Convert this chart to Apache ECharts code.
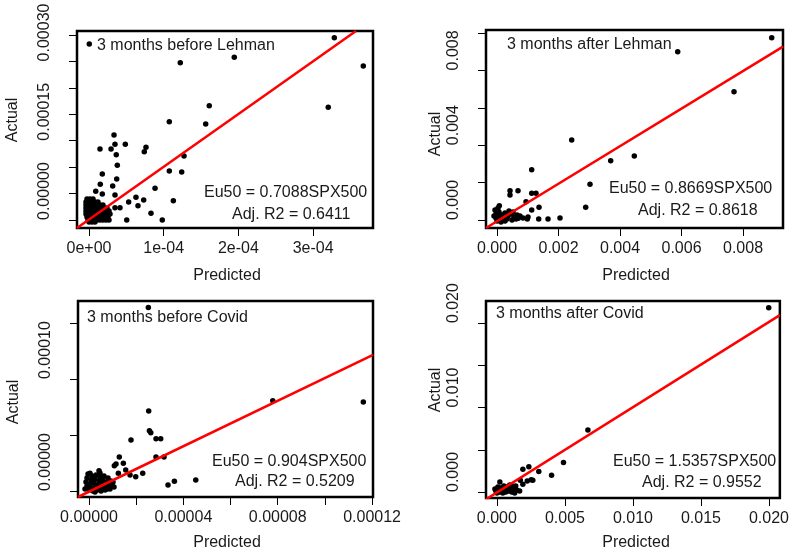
<!DOCTYPE html>
<html><head><meta charset="utf-8">
<script src="https://cdn.jsdelivr.net/npm/echarts@6/dist/echarts.min.js"></script>
<style>html,body{margin:0;padding:0;background:#fff}#c{width:792px;height:554px}</style>
</head><body><div id="c"></div>
<script>
// ---------- DATA ----------
// Panel 1: 3 months before Lehman
const lehmanBeforePoints = [
 [0.004e-4,33.30e-5],[3.284e-4,34.49e-5],[1.222e-4,29.76e-5],[1.945e-4,30.78e-5],[3.672e-4,29.13e-5],
 [1.610e-4,21.62e-5],[3.203e-4,21.32e-5],[1.075e-4,18.60e-5],[1.562e-4,18.16e-5],[0.335e-4,16.08e-5],
 [0.348e-4,14.32e-5],[0.486e-4,14.32e-5],[0.147e-4,13.43e-5],[0.295e-4,13.43e-5],[0.365e-4,12.35e-5],
 [0.763e-4,13.75e-5],[0.740e-4,12.92e-5],[0.379e-4,10.35e-5],[1.075e-4,9.27e-5],[1.241e-4,9.08e-5],
 [1.272e-4,12.11e-5],[0.178e-4,8.70e-5],[0.371e-4,7.76e-5],[0.151e-4,6.75e-5],[0.317e-4,6.43e-5],
 [0.884e-4,6.00e-5],[0.090e-4,5.43e-5],[0.178e-4,4.92e-5],[0.348e-4,4.73e-5],[0.531e-4,3.41e-5],
 [0.629e-4,4.29e-5],[0.732e-4,3.78e-5],[0.656e-4,2.71e-5],[1.129e-4,3.65e-5],[0.830e-4,1.27e-5],
 [0.505e-4,0],[0.981e-4,0],[0.348e-4,2.33e-5],[0.415e-4,2.33e-5],
 // dense cluster near the origin
 [-0.027e-4,3.97e-5],[0.013e-4,3.97e-5],[0.054e-4,3.97e-5],
 [-0.040e-4,3.41e-5],[0,3.41e-5],[0.040e-4,3.41e-5],[0.080e-4,3.41e-5],[0.120e-4,3.41e-5],
 [-0.040e-4,2.84e-5],[-0.013e-4,2.84e-5],[0.027e-4,2.84e-5],[0.067e-4,2.84e-5],[0.107e-4,2.84e-5],[0.147e-4,2.84e-5],[0.187e-4,2.84e-5],
 [-0.040e-4,2.27e-5],[0,2.27e-5],[0.040e-4,2.27e-5],[0.080e-4,2.27e-5],[0.120e-4,2.27e-5],[0.161e-4,2.27e-5],[0.201e-4,2.27e-5],[0.241e-4,2.27e-5],
 [-0.040e-4,1.70e-5],[-0.013e-4,1.70e-5],[0.027e-4,1.70e-5],[0.067e-4,1.70e-5],[0.107e-4,1.70e-5],[0.147e-4,1.70e-5],[0.187e-4,1.70e-5],[0.228e-4,1.70e-5],[0.268e-4,1.70e-5],
 [-0.040e-4,1.14e-5],[0,1.14e-5],[0.040e-4,1.14e-5],[0.080e-4,1.14e-5],[0.120e-4,1.14e-5],[0.161e-4,1.14e-5],[0.201e-4,1.14e-5],[0.241e-4,1.14e-5],[0.281e-4,1.14e-5],
 [-0.027e-4,0.57e-5],[0.013e-4,0.57e-5],[0.054e-4,0.57e-5],[0.094e-4,0.57e-5],[0.134e-4,0.57e-5],[0.174e-4,0.57e-5],[0.214e-4,0.57e-5],[0.254e-4,0.57e-5],
 [-0.013e-4,0],[0.027e-4,0],[0.067e-4,0],[0.107e-4,0],[0.147e-4,0],[0.187e-4,0],[0.228e-4,0],[0.268e-4,0],
 [0,-0.38e-5],[0.040e-4,-0.38e-5],[0.080e-4,-0.38e-5]
];
const lehmanBeforeLine = [[-1.606e-5,-1.513e-5],[3.574e-4,3.575e-4]];

// Panel 2: 3 months after Lehman
const lehmanAfterPoints = [
 [8.933e-3,9.75e-3],[5.876e-3,9.00e-3],[7.707e-3,6.86e-3],[2.429e-3,4.28e-3],[4.465e-3,3.42e-3],
 [3.697e-3,3.17e-3],[1.128e-3,2.69e-3],[3.024e-3,1.91e-3],[2.884e-3,0.68e-3],[0.423e-3,1.57e-3],
 [0.423e-3,1.34e-3],[0.683e-3,1.57e-3],[1.128e-3,1.43e-3],[1.268e-3,1.43e-3],[0.943e-3,0.98e-3],
 [1.128e-3,0.53e-3],[1.366e-3,0.68e-3],[0.986e-3,0.05e-3],[1.356e-3,0.05e-3],[1.659e-3,0.05e-3],
 [2.049e-3,0.11e-3],[0.075e-3,0.76e-3],[0.693e-3,0.09e-3],
 [-0.065e-3,0.535e-3],[0.033e-3,0.642e-3],[-0.033e-3,0.321e-3],[0.065e-3,0.428e-3],[0.163e-3,0.267e-3],
 [0.260e-3,0.374e-3],[0.358e-3,0.214e-3],[0.455e-3,0.321e-3],[0.553e-3,0.160e-3],[0.650e-3,0.267e-3],
 [0.748e-3,0.214e-3],[-0.033e-3,0.107e-3],[0.065e-3,0.053e-3],[0.195e-3,0],[0.325e-3,0.053e-3],
 [0.488e-3,0],[0.618e-3,0.053e-3],[0.846e-3,0.107e-3],[1.008e-3,0.160e-3],[0,-0.053e-3],
 [0.130e-3,-0.107e-3],[0.260e-3,-0.053e-3],[0.098e-3,0.214e-3],[0.390e-3,0.481e-3],[0.520e-3,0.428e-3],
 [-0.098e-3,0.214e-3]
];
const lehmanAfterLine = [[-0.358e-3,-0.428e-3],[9.30e-3,9.27e-3]];

// Panel 3: 3 months before Covid
const covidBeforePoints = [
 [2.515e-5,16.37e-5],[7.79e-5,8.06e-5],[11.63e-5,7.95e-5],[2.53e-5,7.14e-5],[2.56e-5,5.38e-5],
 [2.62e-5,5.21e-5],[1.78e-5,4.55e-5],[2.84e-5,4.67e-5],[3.04e-5,4.67e-5],[2.84e-5,3.04e-5],
 [3.18e-5,3.04e-5],[1.285e-5,3.04e-5],[1.455e-5,2.47e-5],[1.145e-5,2.41e-5],[1.073e-5,2.26e-5],
 [1.556e-5,1.875e-5],[1.739e-5,1.43e-5],[1.98e-5,1.28e-5],[2.277e-5,1.58e-5],[1.243e-5,1.58e-5],
 [3.35e-5,0.536e-5],[3.62e-5,0.866e-5],[4.525e-5,0.98e-5],[0.424e-5,1.81e-5],[0.042e-5,1.58e-5],
 [-0.042e-5,1.518e-5],[0.127e-5,1.339e-5],[0.297e-5,1.429e-5],[0.466e-5,1.25e-5],[0.636e-5,1.339e-5],
 [0.806e-5,1.161e-5],[-0.085e-5,1.161e-5],[0.085e-5,0.982e-5],[0.254e-5,1.071e-5],[0.424e-5,0.893e-5],
 [0.594e-5,0.982e-5],[0.763e-5,0.804e-5],[0.933e-5,0.893e-5],[-0.127e-5,0.804e-5],[0.042e-5,0.625e-5],
 [0.212e-5,0.714e-5],[0.382e-5,0.536e-5],[0.551e-5,0.625e-5],[0.721e-5,0.446e-5],[0.891e-5,0.536e-5],
 [1.060e-5,0.357e-5],[-0.085e-5,0.446e-5],[0.085e-5,0.268e-5],[0.254e-5,0.357e-5],[0.424e-5,0.179e-5],
 [0.594e-5,0.268e-5],[0.763e-5,0.179e-5],[0,0.089e-5],[0.170e-5,0],[0.339e-5,0.089e-5],
 [0.509e-5,0],[0.679e-5,0.089e-5],[0.975e-5,0.625e-5],[0.466e-5,1.607e-5],[-0.170e-5,0.179e-5],
 [0.254e-5,-0.089e-5],[0.891e-5,0.179e-5],[1.018e-5,0.804e-5]
];
const covidBeforeLine = [[-0.467e-5,-0.536e-5],[12.04e-5,12.14e-5]];

// Panel 4: 3 months after Covid
const covidAfterPoints = [
 [19.98e-3,21.82e-3],[6.69e-3,7.34e-3],[4.895e-3,3.49e-3],[4.02e-3,1.99e-3],[3.08e-3,2.42e-3],
 [2.35e-3,2.98e-3],[1.91e-3,2.70e-3],[2.52e-3,1.46e-3],[2.64e-3,1.39e-3],[2.23e-3,1.31e-3],
 [1.72e-3,1.39e-3],[1.91e-3,0.92e-3],[0.218e-3,1.19e-3],
 [-0.145e-3,0.357e-3],[0.073e-3,0.595e-3],[0.291e-3,0.476e-3],[0.509e-3,0.714e-3],[0.727e-3,0.595e-3],
 [0.945e-3,0.833e-3],[1.164e-3,0.714e-3],[1.382e-3,0.714e-3],[-0.073e-3,0.119e-3],[0.145e-3,0.238e-3],
 [0.364e-3,0.119e-3],[0.582e-3,0.238e-3],[0.8e-3,0.357e-3],[1.018e-3,0.238e-3],[1.236e-3,0.357e-3],
 [1.455e-3,0.238e-3],[1.673e-3,0.119e-3],[0,-0.119e-3],[0.218e-3,0],[0.436e-3,-0.119e-3],
 [0.655e-3,0],[0.873e-3,0.119e-3],[1.091e-3,0],[1.309e-3,-0.119e-3]
];
const covidAfterLine = [[-0.8e-3,-0.87e-3],[20.8e-3,20.95e-3]];

// Tick values and labels
const lbX_ticks = [0,1e-4,2e-4,3e-4];
const lbX_labelVals = [0,1e-4,2e-4,3e-4];
const lbX_labels = ['0e+00','1e-04','2e-04','3e-04'];
const lbY_ticks = [0,5e-5,10e-5,15e-5,20e-5,25e-5,30e-5,35e-5];
const lbY_labelVals = [0,15e-5,30e-5];
const lbY_labels = ['0.00000','0.00015','0.00030'];

const laX_ticks = [0,0.002,0.004,0.006,0.008];
const laX_labelVals = [0,0.002,0.004,0.006,0.008];
const laX_labels = ['0.000','0.002','0.004','0.006','0.008'];
const laY_ticks = [0,0.002,0.004,0.006,0.008,0.010];
const laY_labelVals = [0,0.004,0.008];
const laY_labels = ['0.000','0.004','0.008'];

const cbX_ticks = [0,2e-5,4e-5,6e-5,8e-5,10e-5,12e-5];
const cbX_labelVals = [0,4e-5,8e-5,12e-5];
const cbX_labels = ['0.00000','0.00004','0.00008','0.00012'];
const cbY_ticks = [0,5e-5,10e-5,15e-5];
const cbY_labelVals = [0,10e-5];
const cbY_labels = ['0.00000','0.00010'];

const caX_ticks = [0,0.005,0.010,0.015,0.020];
const caX_labelVals = [0,0.005,0.010,0.015,0.020];
const caX_labels = ['0.000','0.005','0.010','0.015','0.020'];
const caY_ticks = [0,0.005,0.010,0.015,0.020];
const caY_labelVals = [0,0.010,0.020];
const caY_labels = ['0.000','0.010','0.020'];

const panelTitles = ['3 months before Lehman','3 months after Lehman','3 months before Covid','3 months after Covid'];
const eqTexts = ['Eu50 = 0.7088SPX500','Eu50 = 0.8669SPX500','Eu50 = 0.904SPX500','Eu50 = 1.5357SPX500'];
const r2Texts = ['Adj. R2 = 0.6411','Adj. R2 = 0.8618','Adj. R2 = 0.5209','Adj. R2 = 0.9552'];
const xTitle = 'Predicted';
const yTitle = 'Actual';

// ---------- LAYOUT ----------
const FONT = "'Liberation Sans', Arial, sans-serif";
const TXT = '#1a1a1a';
const panels = [
 {grid:{left:77,top:31,width:296,height:197}, x:[-1.606e-5,3.802e-4], y:[-1.513e-5,3.575e-4],
  xt:lbX_ticks, xv:lbX_labelVals, xl:lbX_labels, yt:lbY_ticks, yv:lbY_labelVals, yl:lbY_labels,
  pts:lehmanBeforePoints, line:lehmanBeforeLine,
  title:[97,46], eq:[204,193], r2:[232,215], xt_pos:[227,276], yt_pos:[13,120]},
 {grid:{left:486,top:30,width:297,height:198}, x:[-0.358e-3,9.30e-3], y:[-0.428e-3,10.16e-3],
  xt:laX_ticks, xv:laX_labelVals, xl:laX_labels, yt:laY_ticks, yv:laY_labelVals, yl:laY_labels,
  pts:lehmanAfterPoints, line:lehmanAfterLine,
  title:[507,45], eq:[609,189], r2:[638,211], xt_pos:[636,276], yt_pos:[436,134]},
 {grid:{left:78,top:301,width:295,height:196}, x:[-0.467e-5,12.04e-5], y:[-0.536e-5,16.96e-5],
  xt:cbX_ticks, xv:cbX_labelVals, xl:cbX_labels, yt:cbY_ticks, yv:cbY_labelVals, yl:cbY_labels,
  pts:covidBeforePoints, line:covidBeforeLine,
  title:[87,318], eq:[212,462], r2:[235,482], xt_pos:[227,543], yt_pos:[14,402]},
 {grid:{left:486,top:301,width:297,height:197}, x:[-0.8e-3,20.8e-3], y:[-0.714e-3,22.62e-3],
  xt:caX_ticks, xv:caX_labelVals, xl:caX_labels, yt:caY_ticks, yv:caY_labelVals, yl:caY_labels,
  pts:covidAfterPoints, line:covidAfterLine,
  title:[496,314], eq:[613,462], r2:[642,483], xt_pos:[636,543], yt_pos:[436,390]}
];

function fmt(vals, labels){
  return function(v){
    for (let i=0;i<vals.length;i++){ if (Math.abs(vals[i]-v) < 1e-12) return labels[i]; }
    return '';
  };
}

const grids=[], xAxes=[], yAxes=[], series=[], graphics=[];
panels.forEach((p,i)=>{
  grids.push(Object.assign({show:true,borderColor:'#000',borderWidth:2.5,backgroundColor:'transparent',containLabel:false}, p.grid));
  xAxes.push({type:'value',gridIndex:i,min:p.x[0],max:p.x[1],position:'bottom',
    axisLine:{show:false,onZero:false}, splitLine:{show:false},
    axisTick:{show:true,customValues:p.xt,length:8,lineStyle:{color:'#000',width:1}},
    axisLabel:{customValues:p.xv,formatter:fmt(p.xv,p.xl),margin:13,fontSize:16,color:TXT,fontFamily:FONT}});
  yAxes.push({type:'value',gridIndex:i,min:p.y[0],max:p.y[1],position:'left',
    axisLine:{show:false,onZero:false}, splitLine:{show:false},
    axisTick:{show:true,customValues:p.yt,length:8,lineStyle:{color:'#000',width:1}},
    axisLabel:{customValues:p.yv,formatter:fmt(p.yv,p.yl),rotate:90,align:'left',verticalAlign:'bottom',
      margin:24,fontSize:16,color:TXT,fontFamily:FONT}});
  series.push({type:'scatter',xAxisIndex:i,yAxisIndex:i,data:p.pts,symbol:'circle',symbolSize:5.5,
    itemStyle:{color:'#000',opacity:1},silent:true,z:3});
  series.push({type:'line',xAxisIndex:i,yAxisIndex:i,data:p.line,symbol:'none',clip:true,
    lineStyle:{color:'#ff0000',width:2.5},silent:true,z:4});
  const t = (txt,pos,extra)=>Object.assign({type:'text',x:pos[0],y:pos[1],silent:true,z:10,
    style:{text:txt,font:'16px '+FONT,fill:TXT,align:'left',verticalAlign:'middle'}},extra||{});
  graphics.push(t(panelTitles[i],p.title));
  graphics.push(t(eqTexts[i],p.eq));
  graphics.push(t(r2Texts[i],p.r2));
  graphics.push({type:'text',x:p.xt_pos[0],y:p.xt_pos[1],silent:true,
    style:{text:xTitle,font:'16px '+FONT,fill:TXT,align:'center',verticalAlign:'middle'}});
  graphics.push({type:'text',x:p.yt_pos[0],y:p.yt_pos[1],rotation:Math.PI/2,silent:true,
    style:{text:yTitle,font:'16px '+FONT,fill:TXT,align:'center',verticalAlign:'middle'}});
});

const chart = echarts.init(document.getElementById('c'),null,{renderer:'canvas'});
chart.setOption({animation:false,backgroundColor:'#fff',grid:grids,xAxis:xAxes,yAxis:yAxes,series:series,graphic:graphics});
</script></body></html>
